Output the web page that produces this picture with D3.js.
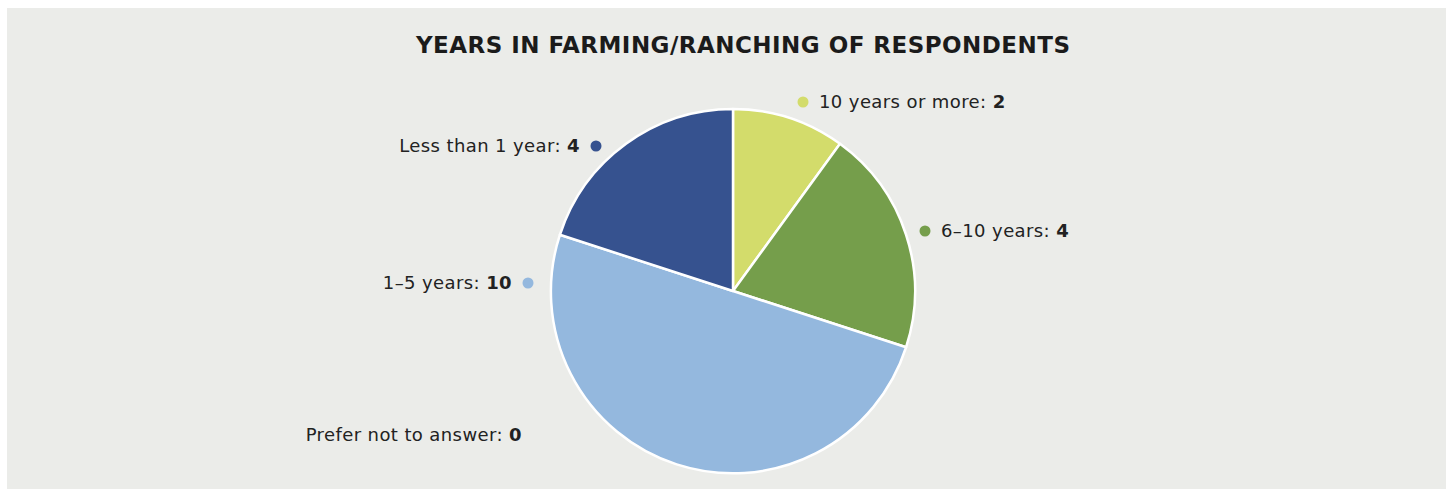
<!DOCTYPE html>
<html>
<head>
<meta charset="utf-8">
<script src="https://cdn.jsdelivr.net/npm/d3@7"></script>
<style>
  html, body { margin: 0; padding: 0; background: #fff; }
  svg { display: block; }
</style>
</head>
<body>
<div class="chart"></div>
<script>
var svgWidth = 1450;
var svgHeight = 489;

// data
var categories = ["10 years or more", "6\u201310 years", "1\u20135 years", "Prefer not to answer", "Less than 1 year"];
var values = [2, 4, 10, 0, 4];
var colors = ["#d3dc6b", "#759e4b", "#94b8de", "#cccccc", "#36528f"];

// label anchor (dot centre) relative to pie centre, and which side the text sits
var labelPos = [[70, -189], [192, -60], [-205, -8], [-195, 144], [-137, -145]];
var labelSide = ["right", "right", "left", "left", "left"];
var showDot = [true, true, true, false, true];

var cx = 733, cy = 291, radius = 182;

var svg = d3.select(".chart")
    .append("svg")
    .attr("width", svgWidth)
    .attr("height", svgHeight);

// panel background
svg.append("rect")
    .attr("x", 7)
    .attr("y", 8)
    .attr("width", 1439)
    .attr("height", 481)
    .attr("fill", "#ebece9");

svg.append("text")
    .attr("x", 743)
    .attr("y", 45)
    .attr("text-anchor", "middle")
    .attr("dominant-baseline", "central")
    .attr("textLength", 654)
    .attr("lengthAdjust", "spacing")
    .style("font-family", "'DejaVu Sans', sans-serif")
    .style("font-weight", "bold")
    .style("font-size", "23px")
    .attr("fill", "#1b1b1b")
    .text("YEARS IN FARMING/RANCHING OF RESPONDENTS");

var data = categories.map(function(c, i) {
    return { name: c, value: values[i], color: colors[i], pos: labelPos[i], side: labelSide[i], dot: showDot[i] };
});

var pie = d3.pie()
    .sort(null)
    .value(d => d.value);

var arc = d3.arc()
    .innerRadius(0)
    .outerRadius(radius);

var chartGroup = svg.append("g")
    .attr("transform", `translate(${cx}, ${cy})`);

chartGroup.selectAll("path")
    .data(pie(data).filter(d => d.data.value > 0))
    .enter()
    .append("path")
    .attr("d", arc)
    .attr("fill", d => d.data.color)
    .attr("stroke", "#ffffff")
    .attr("stroke-width", 2.5)
    .attr("stroke-linejoin", "round");

// labels
var labels = chartGroup.selectAll("g.label")
    .data(data)
    .enter()
    .append("g")
    .attr("class", "label")
    .attr("transform", d => `translate(${d.pos[0]}, ${d.pos[1]})`);

labels.filter(d => d.dot)
    .append("circle")
    .attr("r", 5.5)
    .attr("fill", d => d.color);

var labelText = labels.append("text")
    .attr("x", d => d.side === "right" ? 16 : -16)
    .attr("y", 0)
    .attr("dy", "0.36em")
    .attr("text-anchor", d => d.side === "right" ? "start" : "end")
    .style("font-family", "'DejaVu Sans', sans-serif")
    .style("font-size", "18px")
    .style("letter-spacing", "0.4px")
    .attr("fill", "#222222");

labelText.append("tspan")
    .text(d => d.name + ": ");

labelText.append("tspan")
    .style("font-weight", "bold")
    .text(d => d.value);
</script>
</body>
</html>
